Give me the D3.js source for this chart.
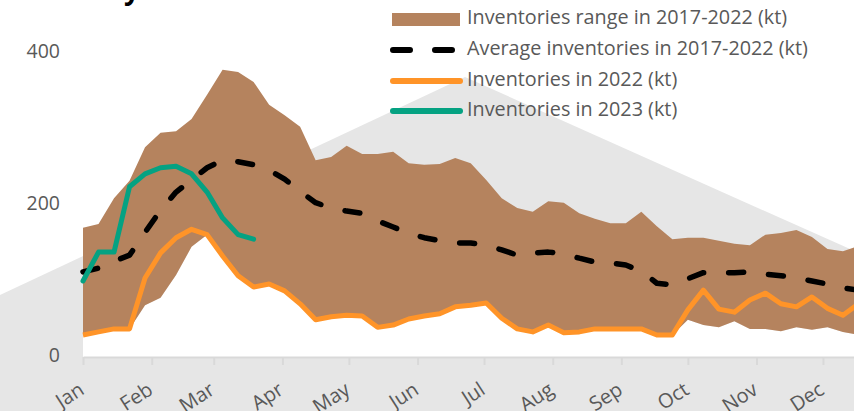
<!DOCTYPE html>
<html>
<head>
<meta charset="utf-8">
<script src="https://cdn.jsdelivr.net/npm/d3@7"></script>
<style>
  body { margin: 0; background: #fff; }
  text { font-family: "Open Sans", sans-serif; }
</style>
</head>
<body>
<script>
// weekly values, kt (week 1 = 1 Jan)
var rangeMax = [170,175,209,232,276,295,297,313,345,378,375,362,332,318,303,259,263,278,267,267,
  270,255,253,254,262,255,233,209,196,191,205,203,189,182,176,176,191,172,155,157,
  157,153,149,147,161,163,167,158,142,139,146,150];
var rangeMin = [29,33,37,37,68,78,108,145,161,133,107,92,96,87,70,49,53,55,54,39,
  42,50,54,57,66,68,71,51,37,33,42,32,33,37,37,37,37,29,29,49,
  42,39,47,37,37,34,39,36,39,33,29,30];
var average = [112,117,126,134,164,193,217,233,249,259,257,253,246,234,218,203,196,192,189,179,
  171,163,157,153,150,150,147,141,134,137,138,136,130,125,124,121,113,97,95,103,
  111,111,111,112,109,107,104,100,96,91,88,86];
var inv2022 = [29,33,37,37,104,137,157,168,161,133,107,92,96,87,70,49,53,55,54,39,
  42,50,54,57,66,68,71,51,37,33,42,32,33,37,37,37,37,29,29,62,
  88,63,59,75,84,70,66,79,64,55,70,66];
var inv2023 = [100,138,138,224,241,249,251,241,217,183,161,155];
var months = ["Jan","Feb","Mar","Apr","May","Jun","Jul","Aug","Sep","Oct","Nov","Dec"];
var yTicks = [0,200,400];
var legendLabels = ["Inventories range in 2017-2022 (kt)","Average inventories in 2017-2022 (kt)",
  "Inventories in 2022 (kt)","Inventories in 2023 (kt)"];

var brown = "#B5835E", orange = "#FF9428", green = "#05A282", grey = "#595959";

var W = 854, H = 411;
var svg = d3.select("body").append("svg").attr("width",W).attr("height",H);

var start = new Date(2023,0,1);
function weekDate(i){ return d3.timeDay.offset(start, 7*i); }

var x = d3.scaleTime()
  .domain([start, new Date(2024,0,1)])
  .range([83, 83+365*2.2156]);
var y = d3.scaleLinear().domain([0,400]).range([357,53]);

// background shape
svg.append("path")
  .attr("d","M0,295 L465,77 L870,258 L870,420 L0,420 Z")
  .attr("fill","#E6E6E6");

// title (mostly above the visible area)
svg.append("text")
  .attr("x",140).attr("y",-1)
  .attr("text-anchor","end")
  .attr("font-size",28).attr("font-weight","bold")
  .attr("fill","#000")
  .text("Inventory");

var rows = rangeMax.map(function(d,i){
  return {date: weekDate(i), max: d, min: rangeMin[i], avg: average[i], v22: inv2022[i]};
});

// white under the range, then the range band
svg.append("path")
  .datum(rows)
  .attr("fill","#fff")
  .attr("d", d3.area().x(function(d){return x(d.date);}).y0(y(0)).y1(function(d){return y(d.min);}));
svg.append("path")
  .datum(rows)
  .attr("fill",brown)
  .attr("d", d3.area().x(function(d){return x(d.date);})
    .y0(function(d){return y(d.min);}).y1(function(d){return y(d.max);}));

// x axis
var xAxis = d3.axisBottom(x)
  .tickValues(months.map(function(m,i){return new Date(2023,i,1);}))
  .tickFormat(function(d,i){return months[i];})
  .tickSize(8).tickSizeOuter(0);
var gx = svg.append("g").attr("transform","translate(0,"+y(0)+")").call(xAxis);
gx.select(".domain").attr("stroke","#D9D9D9").attr("stroke-width",2);
gx.selectAll(".tick line").attr("stroke","#D9D9D9").attr("stroke-width",2);
gx.selectAll(".tick text")
  .attr("x",0).attr("y",0).attr("dy",null)
  .attr("transform","translate(2,36) rotate(-33)")
  .attr("text-anchor","end")
  .attr("font-size",20)
  .attr("font-family","'Open Sans', sans-serif")
  .attr("fill",grey);

// y labels
svg.selectAll("text.ylab")
  .data(yTicks)
  .enter().append("text")
  .attr("class","ylab")
  .attr("x",60)
  .attr("y",function(d){return y(d);})
  .attr("dominant-baseline","middle")
  .attr("text-anchor","end")
  .attr("font-size",19.5)
  .attr("fill",grey)
  .text(function(d){return d;});

var line = d3.line().x(function(d){return x(d.date);});

svg.append("path")
  .datum(rows)
  .attr("fill","none").attr("stroke","#000").attr("stroke-width",5.5)
  .attr("stroke-dasharray","15,25").attr("stroke-linecap","round").attr("stroke-linejoin","round")
  .attr("d", line.y(function(d){return y(d.avg);}));

svg.append("path")
  .datum(rows)
  .attr("fill","none").attr("stroke",orange).attr("stroke-width",5)
  .attr("stroke-linejoin","round")
  .attr("d", line.y(function(d){return y(d.v22);}));

svg.append("path")
  .datum(inv2023.map(function(d,i){return {date: weekDate(i), v: d};}))
  .attr("fill","none").attr("stroke",green).attr("stroke-width",5)
  .attr("stroke-linejoin","round").attr("stroke-linecap","round")
  .attr("d", line.y(function(d){return y(d.v);}));

// legend
var lg = svg.append("g");
var rowY = [19,50,81,111];
lg.append("rect").attr("x",392).attr("y",13).attr("width",68).attr("height",13).attr("fill",brown);
lg.append("line").attr("x1",393).attr("x2",452).attr("y1",rowY[1]).attr("y2",rowY[1])
  .attr("stroke","#000").attr("stroke-width",6).attr("stroke-linecap","round")
  .attr("stroke-dasharray","17,25");
[orange, green].forEach(function(c,i){
  lg.append("line").attr("x1",393).attr("x2",460).attr("y1",rowY[i+2]).attr("y2",rowY[i+2])
    .attr("stroke",c).attr("stroke-width",6).attr("stroke-linecap","round");
});
lg.selectAll("text")
  .data(legendLabels)
  .enter().append("text")
  .attr("x",467)
  .attr("y",function(d,i){return rowY[i];})
  .attr("dominant-baseline","middle")
  .attr("font-size",19.8)
  .attr("fill",grey)
  .text(function(d){return d;});
</script>
</body>
</html>
